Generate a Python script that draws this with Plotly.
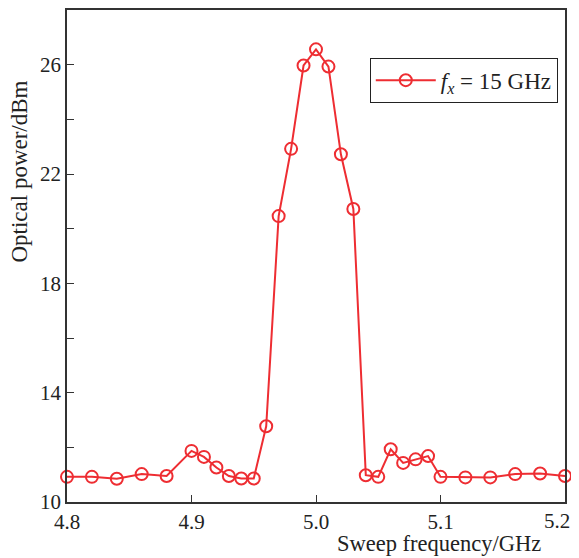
import plotly.graph_objects as go

freq_ghz = [4.80, 4.82, 4.84, 4.86, 4.88, 4.90, 4.91, 4.92, 4.93, 4.94, 4.95,
            4.96, 4.97, 4.98, 4.99, 5.00, 5.01, 5.02, 5.03, 5.04, 5.05, 5.06,
            5.07, 5.08, 5.09, 5.10, 5.12, 5.14, 5.16, 5.18, 5.20]
power_dbm = [10.92, 10.92, 10.85, 11.02, 10.95, 11.87, 11.65, 11.26, 10.95, 10.86, 10.86,
             12.77, 20.46, 22.92, 25.97, 26.56, 25.93, 22.72, 20.72, 10.98, 10.92, 11.93,
             11.43, 11.56, 11.68, 10.92, 10.90, 10.90, 11.02, 11.04, 10.95]
series_name = "<i>f</i><sub><i>x</i></sub> = 15 GHz"
x_ticks = [4.8, 4.9, 5.0, 5.1, 5.2]
x_tick_text = ["4.8", "4.9", "5.0", "5.1", "5.2"]
y_ticks = [10, 14, 18, 22, 26]
x_title = "Sweep frequency/GHz"
y_title = "Optical power/dBm"

red = "#ee2d32"
font_family = "Liberation Serif, Times New Roman, serif"
text_color = "#222222"

fig = go.Figure()
fig.add_trace(go.Scatter(
    x=freq_ghz, y=power_dbm, mode="lines+markers", name=series_name,
    line=dict(color=red, width=2),
    marker=dict(symbol="circle-open", size=12, color=red, line=dict(width=2, color=red)),
    cliponaxis=False,
))

tick_font = dict(family=font_family, size=21, color=text_color)
axis_common = dict(
    showline=True, linecolor="#333333", linewidth=1.5, mirror=True,
    ticks="inside", ticklen=7, tickwidth=1.2, tickcolor="#333333",
    showgrid=False, zeroline=False, ticklabeloverflow="allow",
    tickfont=tick_font,
)

# last x tick label is drawn as an annotation nudged left so it stays inside the window
shown_x_text = x_tick_text[:-1] + [""]

# The page body adds an 8px margin; figure size/margins compensate for it.
fig.update_layout(
    width=571, height=550,
    margin=dict(l=59, r=14, t=0, b=56),
    paper_bgcolor="white", plot_bgcolor="white",
    font=dict(family=font_family, size=21, color=text_color),
    showlegend=True,
    legend=dict(
        x=0.608, y=0.903, xanchor="left", yanchor="top",
        bgcolor="white", bordercolor=text_color, borderwidth=1,
        font=dict(family=font_family, size=23, color=text_color),
        itemwidth=60,
    ),
    xaxis=dict(range=[4.8, 5.2], tickvals=x_ticks, ticktext=shown_x_text, **axis_common),
    yaxis=dict(range=[10, 28], tickvals=y_ticks,
               minor=dict(dtick=2, tick0=10, ticks="inside", ticklen=7, tickcolor="#333333", tickwidth=1.2),
               **axis_common),
    annotations=[
        dict(text=x_tick_text[-1], xref="x", yref="paper", x=x_ticks[-1], y=0,
             xanchor="center", yanchor="middle", xshift=-8, yshift=-19,
             showarrow=False, font=tick_font),
        dict(text=x_title, xref="paper", yref="paper",
             x=0.746, y=0, xanchor="center", yanchor="middle", yshift=-41,
             showarrow=False, font=dict(family=font_family, size=22.5, color=text_color)),
        dict(text=y_title, xref="paper", yref="paper", textangle=-90,
             x=-0.095, y=0.671, xanchor="center", yanchor="middle",
             showarrow=False, font=dict(family=font_family, size=23, color=text_color)),
    ],
)

fig.write_html("out.html")
